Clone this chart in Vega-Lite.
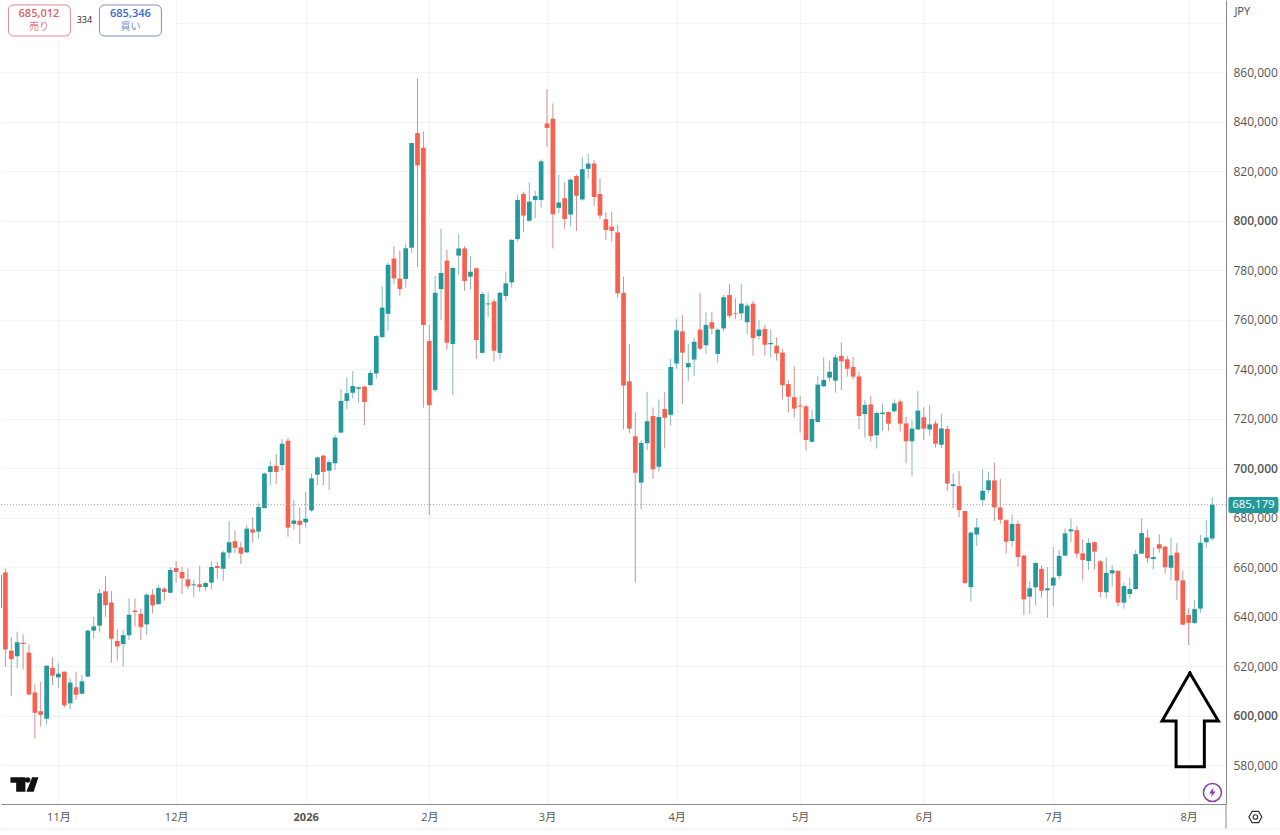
{
  "$schema": "https://vega.github.io/schema/vega-lite/v6.json",
  "description": "Daily candlestick chart in JPY with sell and buy quotes, current price line and an arrow annotation.",
  "width": 1225,
  "height": 804,
  "padding": 0,
  "background": "white",
  "datasets": {
    "candles": [
      {"i":0,"open":643300,"high":658000,"low":642600,"close":656800},
      {"i":1,"open":657800,"high":659400,"low":619700,"close":626700},
      {"i":2,"open":626200,"high":631600,"low":608000,"close":622800},
      {"i":3,"open":623900,"high":633900,"low":619000,"close":629600},
      {"i":4,"open":629400,"high":632800,"low":618600,"close":628900},
      {"i":5,"open":625400,"high":628700,"low":608300,"close":608500},
      {"i":6,"open":609300,"high":612600,"low":590600,"close":601100},
      {"i":7,"open":601700,"high":613700,"low":595500,"close":600300},
      {"i":8,"open":598700,"high":620300,"low":596400,"close":620100},
      {"i":9,"open":619300,"high":623500,"low":612300,"close":616100},
      {"i":10,"open":615400,"high":621100,"low":611000,"close":616900},
      {"i":11,"open":617700,"high":618000,"low":603200,"close":604100},
      {"i":12,"open":604900,"high":615000,"low":602500,"close":613300},
      {"i":13,"open":611400,"high":617700,"low":606300,"close":608400},
      {"i":14,"open":608800,"high":616400,"low":608500,"close":613800},
      {"i":15,"open":615700,"high":634600,"low":615500,"close":634300},
      {"i":16,"open":634300,"high":639900,"low":631000,"close":636000},
      {"i":17,"open":636300,"high":651100,"low":633500,"close":649400},
      {"i":18,"open":650200,"high":656300,"low":639900,"close":644600},
      {"i":19,"open":645700,"high":650300,"low":621300,"close":631000},
      {"i":20,"open":630100,"high":634800,"low":622200,"close":627900},
      {"i":21,"open":628900,"high":634600,"low":619700,"close":632500},
      {"i":22,"open":632400,"high":647300,"low":630500,"close":640700},
      {"i":23,"open":642400,"high":647300,"low":635900,"close":641800},
      {"i":24,"open":641100,"high":643300,"low":630500,"close":635700},
      {"i":25,"open":636800,"high":649400,"low":632500,"close":648800},
      {"i":26,"open":648800,"high":651000,"low":641300,"close":644500},
      {"i":27,"open":645000,"high":652700,"low":644800,"close":651500},
      {"i":28,"open":651200,"high":652000,"low":646400,"close":649900},
      {"i":29,"open":649600,"high":659900,"low":649400,"close":658800},
      {"i":30,"open":659600,"high":662400,"low":653700,"close":658000},
      {"i":31,"open":658000,"high":660100,"low":649100,"close":655400},
      {"i":32,"open":655000,"high":659500,"low":651000,"close":652200},
      {"i":33,"open":652600,"high":654700,"low":647700,"close":653000},
      {"i":34,"open":653000,"high":660500,"low":650000,"close":651900},
      {"i":35,"open":651900,"high":654100,"low":650400,"close":653500},
      {"i":36,"open":653700,"high":662200,"low":651000,"close":660000},
      {"i":37,"open":660400,"high":662200,"low":655300,"close":659600},
      {"i":38,"open":659300,"high":666500,"low":654300,"close":665900},
      {"i":39,"open":665800,"high":678600,"low":663500,"close":670000},
      {"i":40,"open":670400,"high":674900,"low":665500,"close":667800},
      {"i":41,"open":667900,"high":670200,"low":661200,"close":665400},
      {"i":42,"open":665900,"high":677000,"low":665800,"close":675500},
      {"i":43,"open":675200,"high":680100,"low":669800,"close":673900},
      {"i":44,"open":674300,"high":685700,"low":671400,"close":684200},
      {"i":45,"open":683800,"high":698200,"low":683700,"close":697800},
      {"i":46,"open":698400,"high":703000,"low":693100,"close":700700},
      {"i":47,"open":700900,"high":705700,"low":693500,"close":698400},
      {"i":48,"open":701200,"high":711700,"low":698900,"close":709800},
      {"i":49,"open":711000,"high":712200,"low":672200,"close":675900},
      {"i":50,"open":677400,"high":687100,"low":674900,"close":678800},
      {"i":51,"open":678700,"high":684000,"low":669300,"close":677000},
      {"i":52,"open":678000,"high":690400,"low":676000,"close":679500},
      {"i":53,"open":682900,"high":697800,"low":682300,"close":695800},
      {"i":54,"open":697300,"high":704600,"low":693100,"close":704300},
      {"i":55,"open":705000,"high":705300,"low":693100,"close":698400},
      {"i":56,"open":698900,"high":703200,"low":691100,"close":702400},
      {"i":57,"open":701900,"high":713300,"low":699200,"close":712300},
      {"i":58,"open":714300,"high":731800,"low":714300,"close":727100},
      {"i":59,"open":727100,"high":736600,"low":723800,"close":730200},
      {"i":60,"open":730400,"high":739200,"low":728200,"close":733100},
      {"i":61,"open":732000,"high":732900,"low":726400,"close":732600},
      {"i":62,"open":732900,"high":733000,"low":717400,"close":726700},
      {"i":63,"open":733500,"high":739600,"low":733100,"close":738400},
      {"i":64,"open":738200,"high":753700,"low":736100,"close":753300},
      {"i":65,"open":752900,"high":773300,"low":752700,"close":764800},
      {"i":66,"open":762300,"high":783000,"low":755300,"close":782100},
      {"i":67,"open":784600,"high":789700,"low":774200,"close":776600},
      {"i":68,"open":776500,"high":787800,"low":769600,"close":772300},
      {"i":69,"open":776400,"high":790500,"low":772900,"close":788800},
      {"i":70,"open":789000,"high":831500,"low":787000,"close":831300},
      {"i":71,"open":835300,"high":857400,"low":781100,"close":822300},
      {"i":72,"open":829400,"high":835900,"low":724400,"close":757800},
      {"i":73,"open":751300,"high":757800,"low":681000,"close":725400},
      {"i":74,"open":731500,"high":777600,"low":730600,"close":770800},
      {"i":75,"open":772300,"high":796600,"low":759800,"close":778800},
      {"i":76,"open":783800,"high":788100,"low":747700,"close":750600},
      {"i":77,"open":750100,"high":781300,"low":729500,"close":780800},
      {"i":78,"open":785800,"high":794500,"low":778000,"close":788700},
      {"i":79,"open":788700,"high":789700,"low":771600,"close":775600},
      {"i":80,"open":777300,"high":785700,"low":772200,"close":779300},
      {"i":81,"open":780700,"high":780900,"low":744000,"close":751700},
      {"i":82,"open":746500,"high":771200,"low":746300,"close":770300},
      {"i":83,"open":766100,"high":771000,"low":760900,"close":766500},
      {"i":84,"open":767300,"high":768100,"low":743000,"close":747400},
      {"i":85,"open":746500,"high":771200,"low":743900,"close":770800},
      {"i":86,"open":769500,"high":779200,"low":767500,"close":774600},
      {"i":87,"open":775000,"high":792400,"low":772900,"close":792200},
      {"i":88,"open":792500,"high":810300,"low":791500,"close":808300},
      {"i":89,"open":810700,"high":811600,"low":795200,"close":802000},
      {"i":90,"open":799900,"high":815400,"low":799500,"close":807600},
      {"i":91,"open":808300,"high":811900,"low":800900,"close":809900},
      {"i":92,"open":808300,"high":824700,"low":805200,"close":823900},
      {"i":93,"open":839200,"high":853100,"low":829800,"close":837400},
      {"i":94,"open":841100,"high":847300,"low":788700,"close":802500},
      {"i":95,"open":805100,"high":818400,"low":802900,"close":807300},
      {"i":96,"open":809000,"high":815400,"low":796700,"close":800600},
      {"i":97,"open":802400,"high":817000,"low":797800,"close":816500},
      {"i":98,"open":818000,"high":818600,"low":795800,"close":810000},
      {"i":99,"open":808500,"high":825800,"low":808000,"close":820700},
      {"i":100,"open":820900,"high":826900,"low":817000,"close":823000},
      {"i":101,"open":823000,"high":824400,"low":805900,"close":809500},
      {"i":102,"open":810700,"high":817000,"low":800500,"close":802000},
      {"i":103,"open":800500,"high":803300,"low":792100,"close":796200},
      {"i":104,"open":797500,"high":803600,"low":791500,"close":795800},
      {"i":105,"open":795200,"high":798200,"low":768800,"close":770600},
      {"i":106,"open":770800,"high":777300,"low":715600,"close":733300},
      {"i":107,"open":735000,"high":750000,"low":714000,"close":715900},
      {"i":108,"open":712800,"high":722500,"low":653700,"close":698100},
      {"i":109,"open":694100,"high":711300,"low":683300,"close":710100},
      {"i":110,"open":710000,"high":730800,"low":707300,"close":718900},
      {"i":111,"open":721000,"high":724500,"low":695600,"close":699500},
      {"i":112,"open":700500,"high":727700,"low":698500,"close":720600},
      {"i":113,"open":723800,"high":730600,"low":707900,"close":720300},
      {"i":114,"open":721500,"high":744000,"low":717100,"close":740800},
      {"i":115,"open":742200,"high":760100,"low":740100,"close":755600},
      {"i":116,"open":755200,"high":761700,"low":725900,"close":746600},
      {"i":117,"open":740700,"high":750000,"low":735200,"close":742400},
      {"i":118,"open":743800,"high":752700,"low":737200,"close":751000},
      {"i":119,"open":755900,"high":770800,"low":747700,"close":748200},
      {"i":120,"open":749600,"high":762900,"low":746100,"close":757800},
      {"i":121,"open":758900,"high":762900,"low":754000,"close":756300},
      {"i":122,"open":746100,"high":756400,"low":742300,"close":755900},
      {"i":123,"open":756400,"high":769900,"low":755100,"close":769000},
      {"i":124,"open":769900,"high":774300,"low":760700,"close":761500},
      {"i":125,"open":762500,"high":768600,"low":760200,"close":762200},
      {"i":126,"open":762500,"high":774300,"low":759800,"close":766400},
      {"i":127,"open":758900,"high":766500,"low":754100,"close":765600},
      {"i":128,"open":766400,"high":767500,"low":745400,"close":752500},
      {"i":129,"open":753300,"high":759800,"low":752000,"close":755900},
      {"i":130,"open":756200,"high":757800,"low":745500,"close":749800},
      {"i":131,"open":750000,"high":756000,"low":744600,"close":750500},
      {"i":132,"open":749400,"high":752800,"low":743400,"close":746300},
      {"i":133,"open":746600,"high":748100,"low":727700,"close":733500},
      {"i":134,"open":733900,"high":735600,"low":722400,"close":728800},
      {"i":135,"open":728600,"high":741200,"low":720300,"close":724000},
      {"i":136,"open":725200,"high":729100,"low":714300,"close":724800},
      {"i":137,"open":724900,"high":725500,"low":707000,"close":711300},
      {"i":138,"open":710600,"high":723400,"low":710200,"close":719800},
      {"i":139,"open":718600,"high":737200,"low":718300,"close":733700},
      {"i":140,"open":733000,"high":744700,"low":732900,"close":735600},
      {"i":141,"open":736500,"high":743400,"low":734900,"close":738900},
      {"i":142,"open":735300,"high":745700,"low":730400,"close":744700},
      {"i":143,"open":745300,"high":750800,"low":731500,"close":743100},
      {"i":144,"open":743900,"high":745300,"low":736900,"close":740100},
      {"i":145,"open":740800,"high":745000,"low":735800,"close":736900},
      {"i":146,"open":737000,"high":738900,"low":715800,"close":721000},
      {"i":147,"open":721800,"high":727500,"low":712300,"close":725500},
      {"i":148,"open":725700,"high":729200,"low":710600,"close":712900},
      {"i":149,"open":713200,"high":722800,"low":707900,"close":722200},
      {"i":150,"open":721800,"high":726100,"low":715000,"close":722400},
      {"i":151,"open":722600,"high":722800,"low":715000,"close":717900},
      {"i":152,"open":722900,"high":727700,"low":722400,"close":726100},
      {"i":153,"open":726800,"high":727700,"low":714700,"close":717900},
      {"i":154,"open":718000,"high":720700,"low":701900,"close":710800},
      {"i":155,"open":710800,"high":719400,"low":696800,"close":715900},
      {"i":156,"open":715600,"high":731100,"low":715400,"close":723200},
      {"i":157,"open":720500,"high":724500,"low":711300,"close":715900},
      {"i":158,"open":715600,"high":725500,"low":713100,"close":717600},
      {"i":159,"open":718000,"high":719100,"low":708200,"close":709800},
      {"i":160,"open":709400,"high":721800,"low":708100,"close":716000},
      {"i":161,"open":715800,"high":717000,"low":690800,"close":693700},
      {"i":162,"open":692700,"high":697800,"low":683700,"close":693400},
      {"i":163,"open":692700,"high":698800,"low":680100,"close":683000},
      {"i":164,"open":682600,"high":682800,"low":653100,"close":653500},
      {"i":165,"open":651900,"high":674300,"low":646100,"close":673900},
      {"i":166,"open":673100,"high":679700,"low":668500,"close":676000},
      {"i":167,"open":687100,"high":699500,"low":684600,"close":690800},
      {"i":168,"open":691100,"high":698500,"low":690000,"close":695000},
      {"i":169,"open":695000,"high":702200,"low":678600,"close":684100},
      {"i":170,"open":684000,"high":695600,"low":677400,"close":679100},
      {"i":171,"open":678900,"high":679300,"low":665400,"close":670200},
      {"i":172,"open":670500,"high":681300,"low":668200,"close":677400},
      {"i":173,"open":677400,"high":678700,"low":660100,"close":664000},
      {"i":174,"open":664600,"high":664900,"low":640600,"close":646900},
      {"i":175,"open":648000,"high":654400,"low":641000,"close":651400},
      {"i":176,"open":651800,"high":661900,"low":644400,"close":661600},
      {"i":177,"open":659200,"high":660500,"low":647700,"close":650400},
      {"i":178,"open":650600,"high":660000,"low":639500,"close":651400},
      {"i":179,"open":652500,"high":668100,"low":644200,"close":655700},
      {"i":180,"open":656400,"high":666900,"low":655000,"close":664500},
      {"i":181,"open":664600,"high":675600,"low":664500,"close":673600},
      {"i":182,"open":674400,"high":679700,"low":670100,"close":675200},
      {"i":183,"open":674900,"high":676600,"low":663500,"close":665400},
      {"i":184,"open":665500,"high":671200,"low":654500,"close":662800},
      {"i":185,"open":662400,"high":671600,"low":658800,"close":669700},
      {"i":186,"open":670000,"high":670200,"low":659200,"close":666200},
      {"i":187,"open":662300,"high":662800,"low":647700,"close":649900},
      {"i":188,"open":649800,"high":663900,"low":647300,"close":657600},
      {"i":189,"open":657400,"high":660800,"low":652100,"close":658700},
      {"i":190,"open":658400,"high":658800,"low":644200,"close":645600},
      {"i":191,"open":645600,"high":653700,"low":643200,"close":652300},
      {"i":192,"open":649100,"high":655800,"low":647300,"close":651100},
      {"i":193,"open":651100,"high":666900,"low":650700,"close":665200},
      {"i":194,"open":665400,"high":679700,"low":665200,"close":673700},
      {"i":195,"open":671900,"high":675200,"low":661800,"close":663500},
      {"i":196,"open":663200,"high":667900,"low":659100,"close":664000},
      {"i":197,"open":669200,"high":673200,"low":665800,"close":667400},
      {"i":198,"open":668200,"high":668500,"low":657400,"close":659900},
      {"i":199,"open":659700,"high":672000,"low":654500,"close":664700},
      {"i":200,"open":665800,"high":669600,"low":646700,"close":654500},
      {"i":201,"open":654600,"high":658500,"low":636400,"close":636700},
      {"i":202,"open":640600,"high":643300,"low":628500,"close":637400},
      {"i":203,"open":637400,"high":646700,"low":637000,"close":643000},
      {"i":204,"open":643200,"high":672900,"low":641500,"close":669800},
      {"i":205,"open":670000,"high":679000,"low":667800,"close":671900},
      {"i":206,"open":671500,"high":688200,"low":670600,"close":685179}
    ],
    "arrow": [
      {"n":0,"i":202.2,"price":617172},
      {"n":1,"i":207.04,"price":597778},
      {"n":2,"i":204.66,"price":597778},
      {"n":3,"i":204.66,"price":579312},
      {"n":4,"i":199.86,"price":579312},
      {"n":5,"i":199.86,"price":597778},
      {"n":6,"i":197.48,"price":597778},
      {"n":7,"i":202.2,"price":617172}
    ]
  },
  "layer": [
    {
      "data": {"name": "candles"},
      "mark": {"type": "rule", "strokeWidth": 1, "clip": true},
      "encoding": {
        "x": {
          "field": "i",
          "type": "quantitative",
          "scale": {"domain": [0.25, 208.34], "nice": false, "zero": false, "padding": 0},
          "axis": {
            "orient": "bottom",
            "title": null,
            "values": [10, 30, 52, 73, 93, 115, 136, 157, 179, 202],
            "labelExpr": "{'10':'11月','30':'12月','52':'2026','73':'2月','93':'3月','115':'4月','136':'5月','157':'6月','179':'7月','202':'8月'}[datum.value]",
            "labelFontWeight": {"condition": {"test": "datum.value == 52", "value": "bold"}, "value": "normal"},
            "labelFont": "Open Sans, Noto Sans CJK JP",
            "labelFontSize": 11,
            "labelColor": "#555555",
            "labelPadding": 7,
            "labelOverlap": false,
            "labelFlush": false,
            "ticks": false,
            "grid": true,
            "gridColor": "#f2f3f7",
            "domainColor": "#8a8a8a"
          }
        },
        "y": {
          "field": "low",
          "type": "quantitative",
          "scale": {"domain": [564243, 889091], "nice": false, "zero": false},
          "axis": {
            "orient": "right",
            "title": null,
            "values": [580000, 600000, 620000, 640000, 660000, 680000, 700000, 720000, 740000, 760000, 780000, 800000, 820000, 840000, 860000, 880000],
            "labelExpr": "datum.value == 880000 ? '' : format(datum.value, ',')",
            "labelFontWeight": {"condition": {"test": "datum.value % 100000 == 0", "value": 600}, "value": "normal"},
            "labelFont": "Open Sans",
            "labelFontSize": 12,
            "labelColor": "#555555",
            "labelPadding": 7,
            "labelBaseline": "middle",
            "labelOverlap": false,
            "labelFlush": false,
            "ticks": false,
            "grid": true,
            "gridColor": "#f2f3f7",
            "domainColor": "#8a8a8a"
          }
        },
        "y2": {"field": "high"},
        "color": {"condition": {"test": "datum.close >= datum.open", "value": "#86b8bd"}, "value": "#c9938f"}
      }
    },
    {
      "data": {"name": "candles"},
      "mark": {"type": "bar", "size": 4.7, "clip": true},
      "encoding": {
        "x": {"field": "i", "type": "quantitative"},
        "y": {"field": "open", "type": "quantitative"},
        "y2": {"field": "close"},
        "color": {"condition": {"test": "datum.close >= datum.open", "value": "#229a9c"}, "value": "#f8604f"}
      }
    },
    {
      "data": {"values": [{"price": 685179}]},
      "mark": {"type": "rule", "stroke": "#b39aa5", "strokeWidth": 1, "strokeDash": [1, 2]},
      "encoding": {"y": {"field": "price", "type": "quantitative"}}
    },
    {
      "data": {"values": [{"i": 0.25, "i2": 29.9, "price": 889091, "price2": 872929}]},
      "mark": {"type": "rect", "fill": "white"},
      "encoding": {
        "x": {"field": "i", "type": "quantitative"},
        "x2": {"field": "i2"},
        "y": {"field": "price", "type": "quantitative"},
        "y2": {"field": "price2"}
      }
    },
    {
      "data": {"values": [{"i": 1.51, "i2": 12.04, "price": 887071, "price2": 874545}]},
      "mark": {"type": "rect", "fill": "white", "stroke": "#d98b92", "strokeWidth": 1, "cornerRadius": 5},
      "encoding": {
        "x": {"field": "i", "type": "quantitative"},
        "x2": {"field": "i2"},
        "y": {"field": "price", "type": "quantitative"},
        "y2": {"field": "price2"}
      }
    },
    {
      "data": {"values": [{"i": 16.97, "i2": 27.5, "price": 887071, "price2": 874545}]},
      "mark": {"type": "rect", "fill": "white", "stroke": "#7f90b8", "strokeWidth": 1, "cornerRadius": 5},
      "encoding": {
        "x": {"field": "i", "type": "quantitative"},
        "x2": {"field": "i2"},
        "y": {"field": "price", "type": "quantitative"},
        "y2": {"field": "price2"}
      }
    },
    {
      "data": {"values": [{"i": 6.69, "price": 883434, "label": "685,012"}]},
      "mark": {"type": "text", "font": "Open Sans", "fontSize": 11, "fontWeight": 600, "color": "#dc5f66"},
      "encoding": {
        "x": {"field": "i", "type": "quantitative"},
        "y": {"field": "price", "type": "quantitative"},
        "text": {"field": "label"}
      }
    },
    {
      "data": {"values": [{"i": 6.69, "price": 878182, "label": "売り"}]},
      "mark": {"type": "text", "font": "Noto Sans CJK JP", "fontSize": 10, "color": "#e0787e"},
      "encoding": {
        "x": {"field": "i", "type": "quantitative"},
        "y": {"field": "price", "type": "quantitative"},
        "text": {"field": "label"}
      }
    },
    {
      "data": {"values": [{"i": 14.42, "price": 881010, "label": "334"}]},
      "mark": {"type": "text", "font": "Open Sans", "fontSize": 9, "color": "#222222"},
      "encoding": {
        "x": {"field": "i", "type": "quantitative"},
        "y": {"field": "price", "type": "quantitative"},
        "text": {"field": "label"}
      }
    },
    {
      "data": {"values": [{"i": 22.23, "price": 883434, "label": "685,346"}]},
      "mark": {"type": "text", "font": "Open Sans", "fontSize": 11, "fontWeight": 600, "color": "#3a68d8"},
      "encoding": {
        "x": {"field": "i", "type": "quantitative"},
        "y": {"field": "price", "type": "quantitative"},
        "text": {"field": "label"}
      }
    },
    {
      "data": {"values": [{"i": 22.23, "price": 878182, "label": "買い"}]},
      "mark": {"type": "text", "font": "Noto Sans CJK JP", "fontSize": 10, "color": "#6a8fd0"},
      "encoding": {
        "x": {"field": "i", "type": "quantitative"},
        "y": {"field": "price", "type": "quantitative"},
        "text": {"field": "label"}
      }
    },
    {
      "data": {"values": [{"i": 211.1, "price": 884242, "label": "JPY"}]},
      "mark": {"type": "text", "font": "Open Sans", "fontSize": 11, "color": "#444444"},
      "encoding": {
        "x": {"field": "i", "type": "quantitative"},
        "y": {"field": "price", "type": "quantitative"},
        "text": {"field": "label"}
      }
    },
    {
      "data": {"values": [{"i": 208.75, "i2": 217.24, "price": 688283, "price2": 681818}]},
      "mark": {"type": "rect", "fill": "#229a9c", "cornerRadius": 2},
      "encoding": {
        "x": {"field": "i", "type": "quantitative"},
        "x2": {"field": "i2"},
        "y": {"field": "price", "type": "quantitative"},
        "y2": {"field": "price2"}
      }
    },
    {
      "data": {"values": [{"i": 213, "price": 685179, "label": "685,179"}]},
      "mark": {"type": "text", "font": "Open Sans", "fontSize": 11.5, "color": "white"},
      "encoding": {
        "x": {"field": "i", "type": "quantitative"},
        "y": {"field": "price", "type": "quantitative"},
        "text": {"field": "label"}
      }
    },
    {
      "data": {"name": "arrow"},
      "mark": {"type": "line", "color": "#000000", "strokeWidth": 3, "strokeJoin": "miter", "strokeCap": "square"},
      "encoding": {
        "x": {"field": "i", "type": "quantitative"},
        "y": {"field": "price", "type": "quantitative"},
        "order": {"field": "n"}
      }
    },
    {
      "data": {"values": [{"i": 4.23, "price": 572121}]},
      "mark": {
        "type": "point",
        "filled": true,
        "size": 784,
        "opacity": 1,
        "color": "#111111",
        "shape": "M-1 -0.514 H0.07 V0.514 H-0.59 V-0.13 H-1 Z M0.046 -0.32 A0.19 0.19 0 1 1 0.426 -0.32 A0.19 0.19 0 1 1 0.046 -0.32 Z M0.55 -0.514 H1 L0.66 0.514 H0.14 Z"
      },
      "encoding": {
        "x": {"field": "i", "type": "quantitative"},
        "y": {"field": "price", "type": "quantitative"}
      }
    },
    {
      "data": {"values": [{"i": 206.03, "price": 568893}]},
      "mark": {"type": "point", "shape": "circle", "size": 324, "opacity": 1, "fill": "white", "stroke": "#8d3fa6", "strokeWidth": 1.5},
      "encoding": {
        "x": {"field": "i", "type": "quantitative"},
        "y": {"field": "price", "type": "quantitative"}
      }
    },
    {
      "data": {"values": [{"i": 206.03, "price": 568893}]},
      "mark": {
        "type": "point",
        "filled": true,
        "size": 90,
        "opacity": 1,
        "color": "#8d3fa6",
        "shape": "M0.2 -1 L-0.7 0.2 H-0.1 L-0.3 1 L0.7 -0.2 H0.1 Z"
      },
      "encoding": {
        "x": {"field": "i", "type": "quantitative"},
        "y": {"field": "price", "type": "quantitative"}
      }
    },
    {
      "data": {"values": [{"i": 208.34, "price": 564243, "price2": 554141}]},
      "mark": {"type": "rule", "stroke": "#8a8a8a", "strokeWidth": 1},
      "encoding": {
        "x": {"field": "i", "type": "quantitative"},
        "y": {"field": "price", "type": "quantitative"},
        "y2": {"field": "price2"}
      }
    },
    {
      "data": {"values": [{"i": 0.25, "i2": 217.4, "price": 554141}]},
      "mark": {"type": "rule", "stroke": "#eeeeee", "strokeWidth": 1},
      "encoding": {
        "x": {"field": "i", "type": "quantitative"},
        "x2": {"field": "i2"},
        "y": {"field": "price", "type": "quantitative"}
      }
    },
    {
      "data": {"values": [{"i": 213.33, "price": 558990}]},
      "mark": {
        "type": "point",
        "size": 169,
        "opacity": 1,
        "stroke": "#333333",
        "strokeWidth": 1.2,
        "shape": "M-0.5 -0.87 H0.5 L1 0 L0.5 0.87 H-0.5 L-1 0 Z"
      },
      "encoding": {
        "x": {"field": "i", "type": "quantitative"},
        "y": {"field": "price", "type": "quantitative"}
      }
    },
    {
      "data": {"values": [{"i": 213.33, "price": 558990}]},
      "mark": {"type": "point", "shape": "circle", "size": 20, "opacity": 1, "stroke": "#333333", "strokeWidth": 1.2},
      "encoding": {
        "x": {"field": "i", "type": "quantitative"},
        "y": {"field": "price", "type": "quantitative"}
      }
    }
  ],
  "config": {
    "view": {"stroke": null}
  }
}
